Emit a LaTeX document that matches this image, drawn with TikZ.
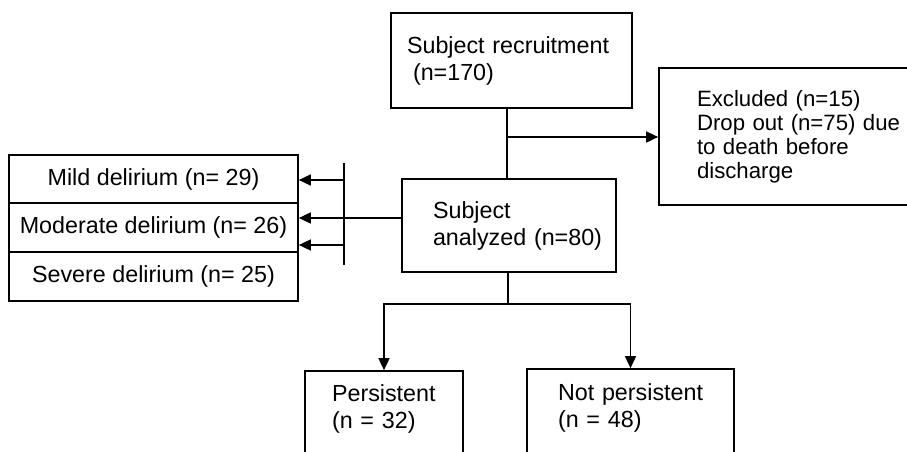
\documentclass[tikz,border=0pt]{standalone}
\usepackage{fontspec}
\setmainfont{Liberation Sans}
\usepackage{tikz}
\usetikzlibrary{arrows.meta}

\newcommand{\boxfont}{\fontsize{23.3}{27}\selectfont}
\newcommand{\tightfont}{\fontsize{22.2}{24}\selectfont}

\begin{document}
\begin{tikzpicture}
[> = {Triangle[length=12pt,width=11pt]}, % arrow head style
x=1pt, y=-1pt, % pixel like units, y goes down
line width=1.7pt, % line style
every node/.style={draw,rectangle,inner sep=0pt,font=\boxfont}]
\useasboundingbox (0,0) rectangle (907,452);
\clip (0,0) rectangle (907,452);

% boxes
\node (recruit) at (511.5,60.5) [minimum width=241pt,minimum height=95pt,text width=209pt,align=left] {\mbox{Subject recruitment}\\\hspace*{6pt}(n=170)};
\node (excl) at (809.5,136.5) [minimum width=301pt,minimum height=137pt,text width=225pt,align=left,font=\tightfont] {Excluded (n=15)\\\mbox{Drop out (n=75) due}\\to death before\\discharge};
\node (analyzed) at (509,225.5) [minimum width=214pt,minimum height=93pt,text width=152pt,align=left] {Subject\\\mbox{analyzed (n=80)}};
\node (mild) at (153.5,179) [minimum width=289pt,minimum height=48pt,align=center] {Mild delirium (n= 29)};
\node (moderate) at (153.5,227.5) [minimum width=289pt,minimum height=49pt,align=center] {Moderate delirium (n= 26)};
\node (severe) at (153.5,276.5) [minimum width=289pt,minimum height=49pt,align=center] {Severe delirium (n= 25)};
\node (pers) at (384,420.5) [minimum width=158pt,minimum height=99pt,text width=104pt,align=left] {\mbox{Persistent}\\\mbox{(n = 32)}\\~};
\node (notpers) at (630.5,419.5) [minimum width=207pt,minimum height=101pt,text width=145pt,align=left] {\mbox{Not persistent}\\\mbox{(n = 48)}\\~};

% top branch
\coordinate (j1) at (507,137);
\draw (recruit.south -| j1) -- (analyzed.north -| j1);
\draw[->] (j1) -- (excl.west |- j1);

% left branch
\coordinate (bartop) at (344,163);
\coordinate (barbot) at (344,265);
\coordinate (b1) at (344,180);
\coordinate (b2) at (344,218);
\coordinate (b3) at (344,245);
\draw (bartop) -- (barbot);
\draw[->] (b1) -- (mild.east |- b1);
\draw[->] (analyzed.west |- b2) -- (moderate.east |- b2);
\draw[->] (b3) -- (moderate.east |- b3);

% bottom branch
\coordinate (j2) at (508,304);
\draw (analyzed.south -| j2) -- (j2);
\draw[->] (j2) -| (pers);
\draw[->] (j2) -| (notpers);
\end{tikzpicture}
\end{document}
